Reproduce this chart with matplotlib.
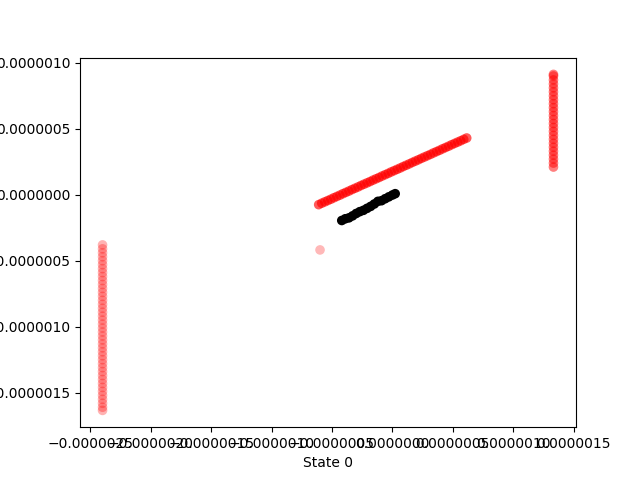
import matplotlib

matplotlib.use("Agg")
import matplotlib.pyplot as plt
import numpy as np

UNIT = 1e-6

# diagonal red trail (values in units of 1e-6)
trail_x = [-0.610, -0.585, -0.560, -0.535, -0.510, -0.485, -0.460, -0.435, -0.410, -0.385,
           -0.360, -0.335, -0.310, -0.285, -0.260, -0.235, -0.210, -0.185, -0.160, -0.135,
           -0.110, -0.085, -0.060, -0.035, -0.010, 0.015, 0.040, 0.065, 0.090, 0.115,
           0.140, 0.165, 0.190, 0.215, 0.240, 0.265, 0.290, 0.315, 0.340, 0.365,
           0.390, 0.415, 0.440, 0.465, 0.490, 0.515, 0.540, 0.565, 0.590, 0.615]
trail_y = [-0.075, -0.064, -0.054, -0.044, -0.034, -0.023, -0.013, -0.003, 0.008, 0.018,
           0.028, 0.039, 0.049, 0.059, 0.070, 0.080, 0.090, 0.100, 0.111, 0.121,
           0.131, 0.142, 0.152, 0.162, 0.173, 0.183, 0.193, 0.203, 0.214, 0.224,
           0.234, 0.245, 0.255, 0.265, 0.276, 0.286, 0.296, 0.306, 0.317, 0.327,
           0.337, 0.348, 0.358, 0.368, 0.379, 0.389, 0.399, 0.409, 0.420, 0.430]

# left vertical band
left_x = -2.399
left_y = [-0.38, -0.41, -0.44, -0.47, -0.50, -0.53, -0.56, -0.59, -0.62, -0.65,
          -0.68, -0.71, -0.74, -0.77, -0.80, -0.83, -0.86, -0.89, -0.92, -0.95,
          -0.98, -1.01, -1.04, -1.07, -1.10, -1.13, -1.16, -1.19, -1.22, -1.25,
          -1.28, -1.31, -1.34, -1.37, -1.40, -1.43, -1.46, -1.49, -1.52, -1.55,
          -1.58, -1.61, -1.634]

# right vertical band
right_x = 1.333
right_y = [0.21, 0.24, 0.27, 0.30, 0.33, 0.36, 0.39, 0.42, 0.45, 0.48,
           0.51, 0.54, 0.57, 0.60, 0.63, 0.66, 0.69, 0.72, 0.75, 0.78,
           0.81, 0.84, 0.87, 0.90, 0.912]

# single faint point
lone_x = [-0.599]
lone_y = [-0.418]

# black states
black_x = [-0.419, -0.39, -0.36, -0.33, -0.30, -0.27, -0.24, -0.21,
           -0.18, -0.15, -0.12, -0.09, -0.06, -0.03, 0.0, 0.023]
black_y = [-0.195, -0.182, -0.175, -0.160, -0.142, -0.128, -0.118, -0.103,
           -0.088, -0.070, -0.050, -0.045, -0.030, -0.016, -0.002, 0.008]

fig, ax = plt.subplots(figsize=(6.4, 4.8), dpi=100)

dot = dict(s=48, edgecolors="none")
ax.scatter(np.full(len(left_y), left_x) * UNIT, np.array(left_y) * UNIT, color="red", alpha=0.3, **dot)
ax.scatter(np.full(len(right_y), right_x) * UNIT, np.array(right_y) * UNIT, color="red", alpha=0.5, **dot)
ax.scatter(np.array(lone_x) * UNIT, np.array(lone_y) * UNIT, color="red", alpha=0.28, **dot)
ax.scatter(np.array(trail_x) * UNIT, np.array(trail_y) * UNIT, color="red", alpha=0.65, **dot)
ax.scatter(np.array(black_x) * UNIT, np.array(black_y) * UNIT, color="black", **dot)

ax.ticklabel_format(style="plain", useOffset=False)
ax.set_xlabel("State 0")

fig.savefig("out.png", dpi=100)
